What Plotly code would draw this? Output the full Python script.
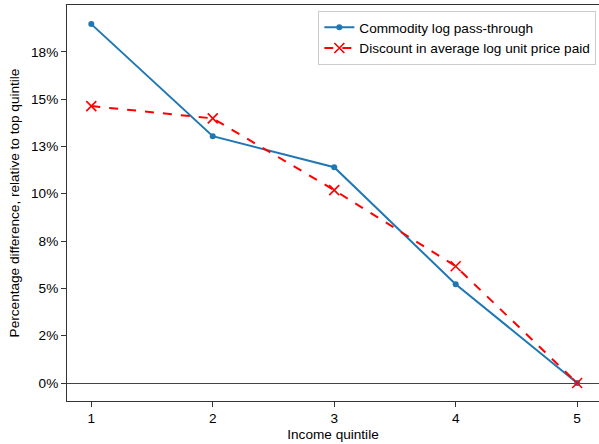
import plotly.graph_objects as go

quintiles = [1, 2, 3, 4, 5]
pass_through = [18.96, 13.04, 11.40, 5.22, 0.0]
price_discount = [14.63, 13.98, 10.19, 6.17, 0.0]
tick_vals = [0, 2.5, 5, 7.5, 10, 12.5, 15, 17.5]
tick_text = ["0%", "2%", "5%", "8%", "10%", "13%", "15%", "18%"]

fig = go.Figure()
fig.add_trace(go.Scatter(
    x=quintiles, y=pass_through, mode="lines+markers",
    name="Commodity log pass-through",
    line=dict(color="#1f77b4", width=2),
    marker=dict(symbol="circle", size=6, color="#1f77b4"),
))
fig.add_trace(go.Scatter(
    x=quintiles, y=price_discount, mode="lines+markers",
    name="Discount in average log unit price paid",
    line=dict(color="red", width=2, dash="dash"),
    marker=dict(symbol="x-thin", size=10, line=dict(color="red", width=1.6)),
))

fs = 13.6
fig.update_layout(
    width=599, height=444,
    margin=dict(l=67, r=0, t=5, b=43),
    plot_bgcolor="white", paper_bgcolor="white",
    font=dict(family="Liberation Sans, Arial, sans-serif", size=fs, color="black"),
    showlegend=True,
    legend=dict(
        x=0.995, y=0.985, xanchor="right", yanchor="top",
        bgcolor="rgba(255,255,255,0.8)", bordercolor="#cccccc", borderwidth=1,
        font=dict(size=fs), tracegroupgap=0, itemwidth=30,
    ),
    xaxis=dict(
        range=[0.8, 5.18], tickvals=quintiles, ticks="outside", ticklen=5,
        tickcolor="#333", showgrid=False, zeroline=False,
        showline=True, linecolor="#333", linewidth=1, mirror=True,
        title=dict(text="Income quintile", standoff=4, font=dict(size=fs)),
        tickfont=dict(size=fs),
    ),
    yaxis=dict(
        range=[-0.95, 19.97], tickvals=tick_vals, ticktext=tick_text,
        ticks="outside", ticklen=5, tickcolor="#333", showgrid=False,
        zeroline=True, zerolinecolor="#444", zerolinewidth=1,
        showline=True, linecolor="#333", linewidth=1,
        title=dict(text="Percentage difference, relative to top quintile", standoff=8, font=dict(size=fs)),
        tickfont=dict(size=fs),
    ),
)

fig.write_html("out.html")
